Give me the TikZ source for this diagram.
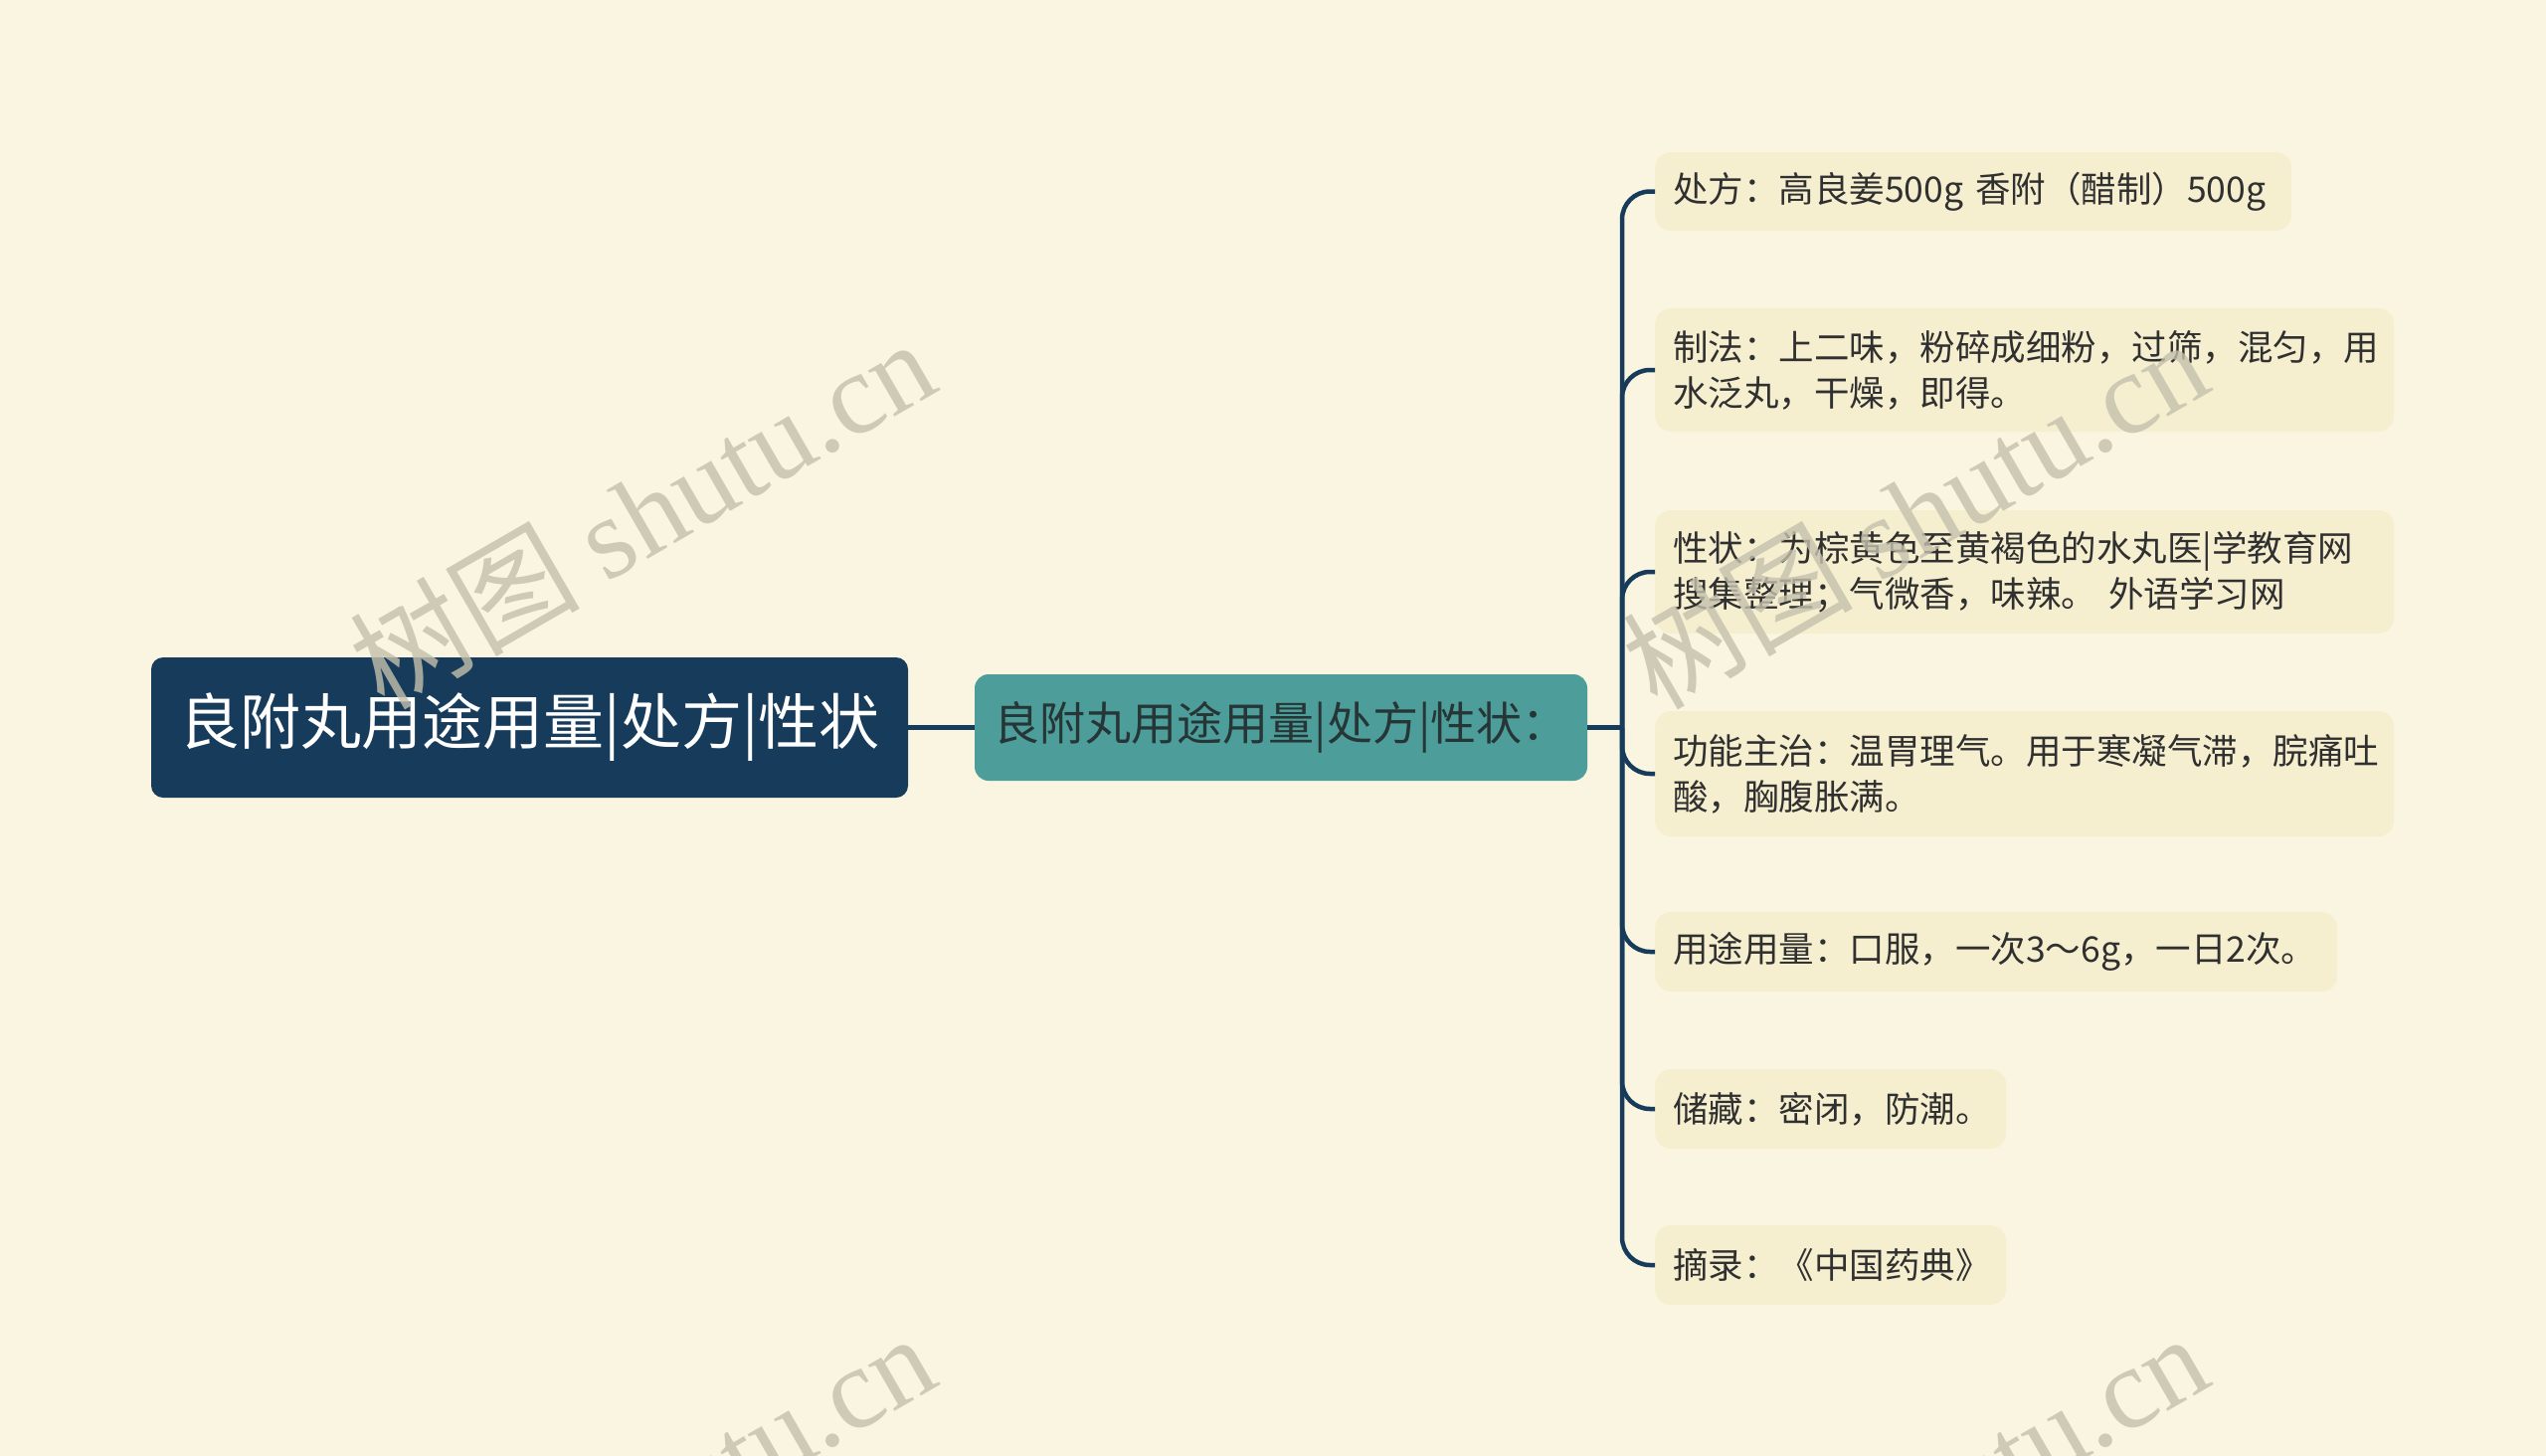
\documentclass[tikz,border=0pt]{standalone}
\usepackage{fontspec}
\setmainfont{Noto Sans CJK SC}
\newfontfamily\wmserif{Liberation Serif}
\definecolor{bg}{HTML}{FAF5E0}
\definecolor{leaffill}{HTML}{F5EFD0}
\definecolor{rootfill}{HTML}{173C5B}
\definecolor{subfill}{HTML}{4D9E9B}
\definecolor{linec}{HTML}{173C5B}
\definecolor{textc}{HTML}{303030}
\definecolor{subtext}{HTML}{263535}
\definecolor{wmc}{HTML}{C4C0AC}
\tikzset{
  rootbox/.style={fill=rootfill, rounded corners=12pt, minimum width=761pt, minimum height=141pt,
    inner sep=0pt, text=white, font=\fontsize{61}{66}\selectfont},
  subbox/.style={fill=subfill, rounded corners=14pt, minimum width=616pt, minimum height=107pt,
    inner sep=0pt, text=subtext, font=\fontsize{46}{50}\selectfont},
  leafbox/.style 2 args={anchor=west, fill=leaffill, rounded corners=16pt, inner xsep=18pt,
    inner ysep=0pt, text width=#1, minimum height=#2, align=left, text=textc,
    font=\fontsize{35.5}{46}\selectfont},
  conn/.style={draw=linec, line width=4.5pt},
  branch/.style={conn, rounded corners=28pt},
  wm/.style={text=wmc, opacity=0.8, rotate=30, font=\fontsize{116}{116}\selectfont, inner sep=0pt}
}
\begin{document}
\begin{tikzpicture}[x=1pt,y=-1pt]
\fill[bg] (0,0) rectangle (2560,1464);
\useasboundingbox (0,0) rectangle (2560,1464);

\node[rootbox] (root) at (532.5,731.5) {良附丸用途用量|处方|性状};
\node[subbox] (sub) at (1288,731.5) {良附丸用途用量|处方|性状：};

\node[leafbox={604pt}{79pt}] (l1) at (1664,192.5) {处方：高良姜500g 香附（醋制）500g};
\node[leafbox={707pt}{124pt}] (l2) at (1664,372) {制法：上二味，粉碎成细粉，过筛，混匀，用\\水泛丸，干燥，即得。};
\node[leafbox={707pt}{124pt}] (l3) at (1664,575) {性状：为棕黄色至黄褐色的水丸医|学教育网\\搜集整理；气微香，味辣。 外语学习网};
\node[leafbox={707pt}{126pt}] (l4) at (1664,778) {功能主治：温胃理气。用于寒凝气滞，脘痛吐\\酸，胸腹胀满。};
\node[leafbox={650pt}{80pt}] (l5) at (1664,957) {用途用量：口服，一次3～6g，一日2次。};
\node[leafbox={317pt}{80pt}] (l6) at (1664,1115) {储藏：密闭，防潮。};
\node[leafbox={317pt}{80pt}] (l7) at (1664,1272) {摘录：《中国药典》};

\coordinate (hub) at (1631,731.5);
\draw[conn] (root.east) -- (sub.west);
\draw[conn] (sub.east) -- (hub);
\foreach \n in {l1,l2,l3,l4,l5,l6,l7}
  \draw[branch] (hub) |- (\n.west);

\begin{scope}
\clip (0,0) rectangle (2560,1464);
\foreach \cx/\cy [count=\i] in {645/515, 1925/515, 645/1515, 1925/1515}
  \node[wm] (wm\i) at (\cx,\cy) {树图 {\wmserif shutu.cn}};
\end{scope}
\end{tikzpicture}
\end{document}
